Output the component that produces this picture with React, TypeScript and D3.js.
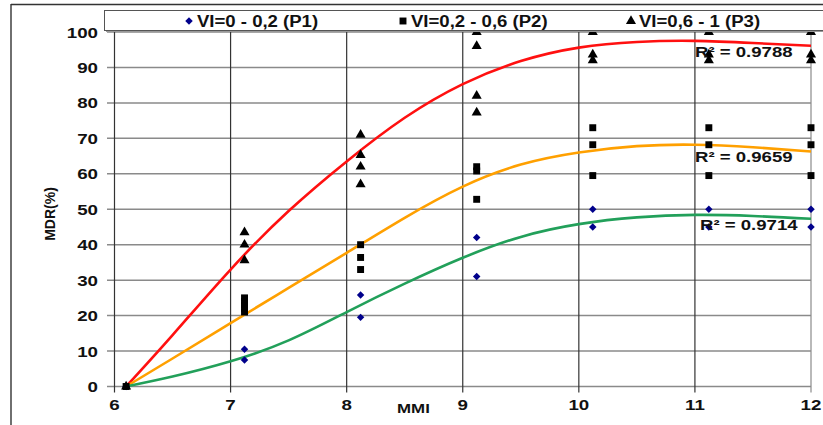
import React, { useEffect, useRef } from "react";
import * as d3 from "d3";

// observed points, MDR(%) per MMI
const p1X = [6.1, 7.12, 7.12, 8.12, 8.12, 9.12, 9.12, 10.12, 10.12, 11.12, 11.12, 12, 12];
const p1Y = [0, 10.5, 7.5, 25.8, 19.5, 42, 31, 50, 45, 50, 45, 50, 45];
const p2X = [6.1, 7.12, 7.12, 7.12, 7.12, 7.12, 8.12, 8.12, 8.12, 9.12, 9.12, 9.12, 10.12, 10.12, 10.12, 11.12, 11.12, 11.12, 12, 12, 12];
const p2Y = [0, 21, 22, 23, 24, 25, 40, 36.4, 33, 62, 60.8, 52.8, 73, 68.2, 59.5, 73, 68.2, 59.5, 73, 68.2, 59.5];
const p3X = [6.1, 7.12, 7.12, 7.12, 8.12, 8.12, 8.12, 8.12, 9.12, 9.12, 9.12, 9.12, 10.12, 10.12, 10.12, 11.12, 11.12, 11.12, 12, 12, 12];
const p3Y = [0, 43.5, 40, 35.6, 71, 65.3, 62, 57, 100, 96, 82, 77.3, 100, 93.6, 92, 100, 93.6, 92, 100, 93.6, 92];

// trend lines
const fitX = [6.1, 6.5, 7, 7.5, 8, 8.5, 9, 9.5, 10, 10.5, 11, 11.5, 12];
const fitP3 = [0, 14.5, 33, 49.5, 63.5, 75.8, 85.3, 91.8, 95.6, 97.2, 97.5, 96.9, 96.1];
const fitP2 = [0, 7.9, 17.9, 27.8, 37.7, 47.6, 56.4, 62.6, 66, 67.8, 68.2, 67.5, 66.3];
const fitP1 = [0, 2.8, 7.1, 13, 21, 29, 36.3, 42.2, 45.8, 47.7, 48.4, 48.1, 47.3];
const r2Labels = ["R² = 0.9788", "R² = 0.9659", "R² = 0.9714"];
const legendLabels = ["VI=0 - 0,2 (P1)", "VI=0,2 - 0,6 (P2)", "VI=0,6 - 1 (P3)"];

const xTicks = [6, 7, 8, 9, 10, 11, 12];
const yTicks = [0, 10, 20, 30, 40, 50, 60, 70, 80, 90, 100];

const FONT = "'Liberation Sans', Arial, sans-serif";

function App() {
  const ref = useRef<SVGSVGElement>(null);

  useEffect(() => {
    const svg = d3.select(ref.current);
    svg.selectAll("*").remove();

    const x = d3.scaleLinear().domain([6, 12]).range([114.5, 811]);
    const y = d3.scaleLinear().domain([0, 100]).range([386.5, 32]);

    const stretched = (g: any, txt: string, tx: number, ty: number, size: number, sx: number, anchor: string) =>
      g
        .append("text")
        .attr("transform", `translate(${tx},${ty}) scale(${sx},1)`)
        .attr("text-anchor", anchor)
        .style("font-family", FONT)
        .style("font-weight", "bold")
        .style("font-size", size + "px")
        .style("fill", "#111")
        .text(txt);

    // outer frame
    svg.append("line").attr("x1", 11).attr("x2", 823).attr("y1", 4.5).attr("y2", 4.5).attr("stroke", "#333").attr("stroke-width", 1.4);
    svg.append("line").attr("x1", 11).attr("x2", 11).attr("y1", 4).attr("y2", 425).attr("stroke", "#333").attr("stroke-width", 1.4);

    // horizontal grid
    svg
      .append("g")
      .selectAll("line")
      .data(yTicks)
      .join("line")
      .attr("x1", 107)
      .attr("x2", x(12))
      .attr("y1", (d) => y(d))
      .attr("y2", (d) => y(d))
      .attr("stroke", "#8a8a8a")
      .attr("stroke-width", 1.5);

    // vertical grid
    svg
      .append("g")
      .selectAll("line")
      .data(xTicks)
      .join("line")
      .attr("x1", (d) => x(d))
      .attr("x2", (d) => x(d))
      .attr("y1", y(100))
      .attr("y2", y(0) + 6)
      .attr("stroke", (d) => (d === 12 ? "#8a8a8a" : "#333"))
      .attr("stroke-width", 1.2);

    // tick labels
    yTicks.forEach((t) => stretched(svg, String(t), 98, y(t) + 5.5, 15, 1.25, "end"));
    xTicks.forEach((t) => stretched(svg, String(t), x(t), 410, 15, 1.25, "middle"));

    stretched(svg, "MMI", 397, 413, 13, 1.3, "start");
    svg
      .append("text")
      .attr("transform", "translate(55,214) rotate(-90)")
      .attr("text-anchor", "middle")
      .style("font-family", FONT)
      .style("font-weight", "bold")
      .style("font-size", "14px")
      .style("fill", "#111")
      .text("MDR(%)");

    // trend curves
    const fits: [number[], string][] = [
      [fitP3, "#ff1010"],
      [fitP2, "#ffa000"],
      [fitP1, "#22a05a"],
    ];
    fits.forEach(([vals, col]) => {
      const line = d3
        .line<number>()
        .x((d, i) => x(fitX[i]))
        .y((d) => y(d))
        .curve(d3.curveNatural);
      svg.append("path").attr("d", line(vals)).attr("fill", "none").attr("stroke", col).attr("stroke-width", 2.6);
    });

    const diamond = d3.symbol().type(d3.symbolSquare).size(28);
    const square = d3.symbol().type(d3.symbolSquare).size(48);
    const triangle = d3.symbol().type(d3.symbolTriangle).size(44);
    const rot = ["rotate(45)", "", ""];

    const points = (xs: number[], ys: number[], sym: any, col: string, r: string) =>
      svg
        .append("g")
        .selectAll("path")
        .data(xs)
        .join("path")
        .attr("transform", (d, i) => `translate(${x(d)},${y(ys[i])}) ${r}`)
        .attr("d", sym())
        .attr("fill", col);

    points(p1X, p1Y, diamond, "#00008b", rot[0]);
    points(p3X, p3Y, triangle, "#000", rot[2]);
    points(p2X, p2Y, square, "#000", rot[1]);

    // R² labels
    stretched(svg, r2Labels[0], 695, 57, 15, 1.24, "start");
    stretched(svg, r2Labels[1], 695, 162, 15, 1.24, "start");
    stretched(svg, r2Labels[2], 700, 230, 15, 1.24, "start");

    // legend
    const lg = svg.append("g");
    lg.append("rect").attr("x", 106).attr("y", 12).attr("width", 730).attr("height", 20).attr("fill", "#999");
    lg.append("rect").attr("x", 104.5).attr("y", 10.5).attr("width", 730).attr("height", 20).attr("fill", "#fff").attr("stroke", "#555").attr("stroke-width", 1);
    const legendPos = [189, 403, 631];
    const legendSym = [diamond, square, triangle];
    const legendCol = ["#00008b", "#000", "#000"];
    legendLabels.forEach((lbl, i) => {
      lg.append("path").attr("transform", `translate(${legendPos[i]},21) ${rot[i]}`).attr("d", legendSym[i]()).attr("fill", legendCol[i]);
      stretched(lg, lbl, legendPos[i] + 8, 26.5, 16, 1.16, "start");
    });
  }, []);

  return (
    <div style={{ position: "fixed", left: 0, top: 0, background: "#fff" }}>
      <svg ref={ref} width={823} height={425} style={{ display: "block" }}></svg>
    </div>
  );
}

export default App;
